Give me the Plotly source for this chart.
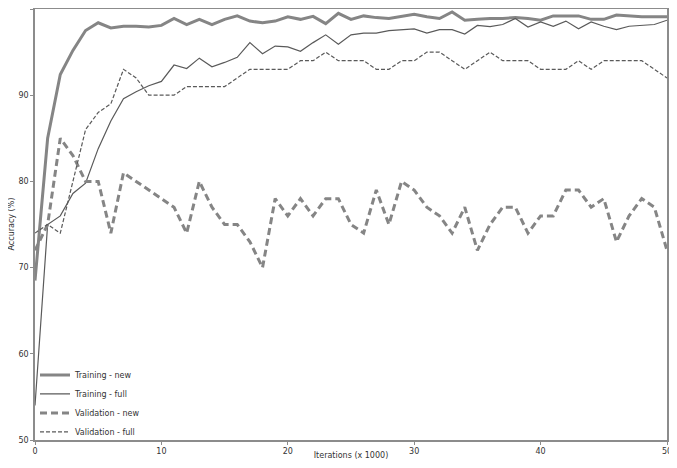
import plotly.graph_objects as go

# iterations (x 1000)
iters = list(range(0, 51))

train_new = [68.5, 85.0, 92.4, 95.2, 97.5, 98.4, 97.8, 98.0, 98.0, 97.9,
             98.1, 98.9, 98.2, 98.8, 98.2, 98.8, 99.2, 98.6, 98.4, 98.6,
             99.1, 98.8, 99.15, 98.3, 99.5, 98.8, 99.2, 99.0, 98.9, 99.15,
             99.4, 99.1, 98.9, 99.65, 98.7, 98.8, 98.9, 98.9, 99.0, 98.9,
             98.7, 99.2, 99.2, 99.2, 98.8, 98.8, 99.3, 99.2, 99.1, 99.1,
             99.1]

train_full = [54.0, 75.0, 76.0, 78.6, 79.8, 83.8, 87.0, 89.6, 90.4, 91.1,
              91.6, 93.5, 93.1, 94.3, 93.3, 93.8, 94.4, 96.1, 94.8, 95.7,
              95.6, 95.1, 96.1, 97.0, 95.9, 97.0, 97.2, 97.2, 97.5, 97.6,
              97.7, 97.2, 97.6, 97.6, 97.1, 98.1, 97.95, 98.2, 98.9, 97.9,
              98.5, 98.0, 98.6, 97.7, 98.5, 98.0, 97.6, 98.0, 98.1, 98.2,
              98.7]

val_new = [72, 75, 85, 83, 80, 80, 74, 81, 80, 79,
           78, 77, 74, 80, 77, 75, 75, 73, 70, 78,
           76, 78, 76, 78, 78, 75, 74, 79, 75, 80,
           79, 77, 76, 74, 77, 72, 75, 77, 77, 74,
           76, 76, 79, 79, 77, 78, 73, 76, 78, 77,
           72]

val_full = [74, 75, 74, 80, 86, 88, 89, 93, 92, 90,
            90, 90, 91, 91, 91, 91, 92, 93, 93, 93,
            93, 94, 94, 95, 94, 94, 94, 93, 93, 94,
            94, 95, 95, 94, 93, 94, 95, 94, 94, 94,
            93, 93, 93, 94, 93, 94, 94, 94, 94, 93,
            92]

series = [
    ("Training - new", train_new, dict(color="#858585", width=3, dash="solid")),
    ("Training - full", train_full, dict(color="#5a5a5a", width=1.2, dash="solid")),
    ("Validation - new", val_new, dict(color="#858585", width=3, dash="7px,4px")),
    ("Validation - full", val_full, dict(color="#5a5a5a", width=1.2, dash="4px,2px")),
]

fig = go.Figure()
for name, vals, line in series:
    fig.add_trace(go.Scatter(x=iters, y=vals, mode="lines", name=name, line=line))

axis_style = dict(
    showgrid=False, zeroline=False, automargin=False,
    showline=True, linecolor="#8c8c8c", linewidth=1.5, mirror=True,
    ticks="outside", ticklen=3, tickcolor="#8c8c8c",
    tickfont=dict(size=8, color="#333333"),
)

fig.update_xaxes(range=[0, 50], dtick=10,
                 title=dict(text="Iterations (x 1000)", font=dict(size=8, color="#333333"), standoff=5),
                 **axis_style)
fig.update_yaxes(range=[50, 100], dtick=10, **axis_style)

# y title as annotation so it sits close to the left edge like the original
fig.add_annotation(text="Accuracy (%)", textangle=-90, xref="paper", yref="paper",
                   x=0, y=0.5, xanchor="center", yanchor="middle", xshift=-24,
                   showarrow=False, font=dict(size=8, color="#333333"))

# page body has an 8px margin, so the figure is sized to fit inside it
fig.update_layout(
    width=669, height=452,
    margin=dict(l=27, r=10, t=1, b=20),
    paper_bgcolor="white", plot_bgcolor="white",
    font=dict(family="DejaVu Sans", size=8, color="#333333"),
    legend=dict(x=0, y=-0.015, xanchor="left", yanchor="bottom",
                bgcolor="rgba(0,0,0,0)", font=dict(size=8), tracegroupgap=0),
    showlegend=True,
)

fig.write_html("out.html")
